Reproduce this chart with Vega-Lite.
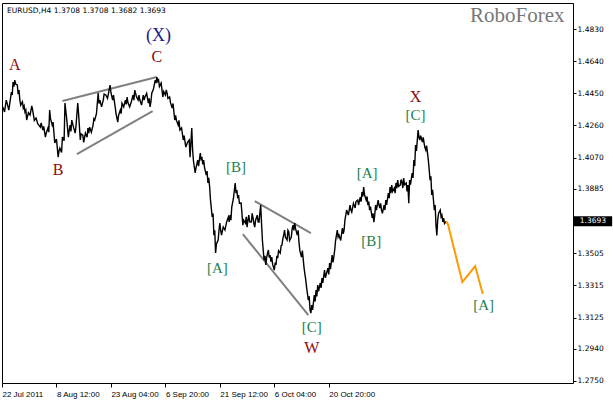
{
  "$schema": "https://vega.github.io/schema/vega-lite/v6.json",
  "width": 571,
  "height": 380,
  "autosize": "none",
  "padding": {"left": 2, "top": 3, "right": 40, "bottom": 18},
  "background": "white",
  "config": {"view": {"stroke": "black", "strokeWidth": 1}},
  "datasets": {
    "price": [
      {"i":1,"p":1.4369},{"i":3,"p":1.4340},{"i":5,"p":1.4410},{"i":6,"p":1.4392},{"i":8,"p":1.4351},{"i":9,"p":1.4385},{"i":11,"p":1.4457},{"i":12,"p":1.4440},{"i":13,"p":1.4516},{"i":14,"p":1.4490},{"i":15,"p":1.4528},{"i":16,"p":1.4505},{"i":18,"p":1.4499},{"i":19,"p":1.4445},{"i":20,"p":1.4469},{"i":21,"p":1.4410},{"i":22,"p":1.4380},{"i":24,"p":1.4400},{"i":25,"p":1.4363},{"i":26,"p":1.4375},{"i":27,"p":1.4339},{"i":28,"p":1.4350},{"i":29,"p":1.4292},{"i":31,"p":1.4335},{"i":33,"p":1.4321},{"i":35,"p":1.4375},{"i":36,"p":1.4351},{"i":38,"p":1.4290},{"i":40,"p":1.4304},{"i":42,"p":1.4270},{"i":45,"p":1.4250},{"i":46,"p":1.4275},{"i":48,"p":1.4233},{"i":49,"p":1.4255},{"i":51,"p":1.4191},{"i":52,"p":1.4215},{"i":54,"p":1.4245},{"i":55,"p":1.4220},{"i":56,"p":1.4351},{"i":57,"p":1.4300},{"i":59,"p":1.4262},{"i":60,"p":1.4280},{"i":62,"p":1.4156},{"i":64,"p":1.4180},{"i":66,"p":1.4073},{"i":67,"p":1.4110},{"i":68,"p":1.4126},{"i":70,"p":1.4100},{"i":71,"p":1.4191},{"i":73,"p":1.4170},{"i":74,"p":1.4392},{"i":76,"p":1.4300},{"i":78,"p":1.4191},{"i":79,"p":1.4230},{"i":80,"p":1.4262},{"i":81,"p":1.4225},{"i":82,"p":1.4292},{"i":84,"p":1.4250},{"i":86,"p":1.4215},{"i":87,"p":1.4260},{"i":89,"p":1.4392},{"i":90,"p":1.4330},{"i":92,"p":1.4174},{"i":93,"p":1.4210},{"i":95,"p":1.4203},{"i":96,"p":1.4160},{"i":98,"p":1.4215},{"i":100,"p":1.4190},{"i":101,"p":1.4245},{"i":102,"p":1.4215},{"i":103,"p":1.4250},{"i":105,"p":1.4220},{"i":107,"p":1.4262},{"i":108,"p":1.4300},{"i":109,"p":1.4292},{"i":111,"p":1.4330},{"i":113,"p":1.4451},{"i":114,"p":1.4390},{"i":115,"p":1.4410},{"i":117,"p":1.4370},{"i":119,"p":1.4410},{"i":120,"p":1.4445},{"i":122,"p":1.4440},{"i":124,"p":1.4420},{"i":127,"p":1.4499},{"i":128,"p":1.4455},{"i":130,"p":1.4410},{"i":131,"p":1.4440},{"i":133,"p":1.4369},{"i":134,"p":1.4330},{"i":136,"p":1.4280},{"i":137,"p":1.4320},{"i":139,"p":1.4351},{"i":140,"p":1.4330},{"i":141,"p":1.4392},{"i":143,"p":1.4370},{"i":145,"p":1.4410},{"i":146,"p":1.4385},{"i":147,"p":1.4428},{"i":148,"p":1.4395},{"i":150,"p":1.4369},{"i":152,"p":1.4400},{"i":154,"p":1.4440},{"i":155,"p":1.4410},{"i":156,"p":1.4469},{"i":158,"p":1.4430},{"i":160,"p":1.4410},{"i":161,"p":1.4440},{"i":162,"p":1.4410},{"i":164,"p":1.4380},{"i":166,"p":1.4440},{"i":167,"p":1.4410},{"i":168,"p":1.4428},{"i":170,"p":1.4450},{"i":172,"p":1.4392},{"i":173,"p":1.4420},{"i":174,"p":1.4369},{"i":175,"p":1.4400},{"i":176,"p":1.4451},{"i":178,"p":1.4475},{"i":180,"p":1.4528},{"i":181,"p":1.4510},{"i":182,"p":1.4546},{"i":183,"p":1.4520},{"i":184,"p":1.4528},{"i":185,"p":1.4490},{"i":187,"p":1.4511},{"i":188,"p":1.4470},{"i":189,"p":1.4428},{"i":190,"p":1.4460},{"i":192,"p":1.4440},{"i":193,"p":1.4470},{"i":194,"p":1.4451},{"i":195,"p":1.4420},{"i":197,"p":1.4428},{"i":198,"p":1.4395},{"i":200,"p":1.4363},{"i":201,"p":1.4390},{"i":203,"p":1.4292},{"i":204,"p":1.4320},{"i":205,"p":1.4290},{"i":207,"p":1.4262},{"i":208,"p":1.4290},{"i":209,"p":1.4233},{"i":211,"p":1.4245},{"i":213,"p":1.4174},{"i":214,"p":1.4200},{"i":216,"p":1.4132},{"i":218,"p":1.4160},{"i":220,"p":1.4174},{"i":221,"p":1.4073},{"i":223,"p":1.4245},{"i":224,"p":1.4115},{"i":225,"p":1.4050},{"i":227,"p":1.3979},{"i":228,"p":1.4010},{"i":230,"p":1.4055},{"i":231,"p":1.4020},{"i":233,"p":1.4097},{"i":234,"p":1.4060},{"i":235,"p":1.4067},{"i":236,"p":1.4030},{"i":237,"p":1.4055},{"i":238,"p":1.4010},{"i":240,"p":1.3967},{"i":241,"p":1.3990},{"i":242,"p":1.3920},{"i":243,"p":1.3950},{"i":244,"p":1.3896},{"i":245,"p":1.3820},{"i":247,"p":1.3719},{"i":248,"p":1.3740},{"i":249,"p":1.3612},{"i":250,"p":1.3640},{"i":251,"p":1.3506},{"i":252,"p":1.3560},{"i":254,"p":1.3583},{"i":255,"p":1.3640},{"i":256,"p":1.3683},{"i":257,"p":1.3640},{"i":258,"p":1.3612},{"i":260,"p":1.3660},{"i":262,"p":1.3642},{"i":264,"p":1.3690},{"i":266,"p":1.3719},{"i":267,"p":1.3690},{"i":268,"p":1.3730},{"i":269,"p":1.3700},{"i":270,"p":1.3778},{"i":272,"p":1.3830},{"i":274,"p":1.3920},{"i":275,"p":1.3860},{"i":276,"p":1.3878},{"i":277,"p":1.3830},{"i":278,"p":1.3849},{"i":279,"p":1.3800},{"i":281,"p":1.3801},{"i":282,"p":1.3740},{"i":283,"p":1.3671},{"i":284,"p":1.3700},{"i":286,"p":1.3683},{"i":287,"p":1.3720},{"i":288,"p":1.3659},{"i":289,"p":1.3700},{"i":290,"p":1.3730},{"i":291,"p":1.3690},{"i":293,"p":1.3689},{"i":294,"p":1.3740},{"i":295,"p":1.3713},{"i":296,"p":1.3680},{"i":297,"p":1.3659},{"i":298,"p":1.3700},{"i":300,"p":1.3730},{"i":301,"p":1.3690},{"i":302,"p":1.3689},{"i":303,"p":1.3740},{"i":304,"p":1.3789},{"i":305,"p":1.3680},{"i":306,"p":1.3583},{"i":307,"p":1.3520},{"i":308,"p":1.3464},{"i":309,"p":1.3490},{"i":310,"p":1.3435},{"i":311,"p":1.3480},{"i":313,"p":1.3524},{"i":314,"p":1.3480},{"i":315,"p":1.3494},{"i":316,"p":1.3455},{"i":317,"p":1.3482},{"i":318,"p":1.3440},{"i":320,"p":1.3405},{"i":321,"p":1.3450},{"i":322,"p":1.3435},{"i":323,"p":1.3490},{"i":324,"p":1.3476},{"i":325,"p":1.3520},{"i":327,"p":1.3506},{"i":328,"p":1.3550},{"i":329,"p":1.3553},{"i":330,"p":1.3590},{"i":331,"p":1.3612},{"i":332,"p":1.3642},{"i":333,"p":1.3600},{"i":335,"p":1.3583},{"i":336,"p":1.3640},{"i":337,"p":1.3630},{"i":338,"p":1.3580},{"i":340,"p":1.3600},{"i":341,"p":1.3650},{"i":342,"p":1.3671},{"i":343,"p":1.3640},{"i":344,"p":1.3683},{"i":345,"p":1.3650},{"i":347,"p":1.3612},{"i":348,"p":1.3640},{"i":349,"p":1.3571},{"i":350,"p":1.3520},{"i":352,"p":1.3482},{"i":353,"p":1.3520},{"i":355,"p":1.3417},{"i":356,"p":1.3380},{"i":357,"p":1.3346},{"i":358,"p":1.3300},{"i":360,"p":1.3228},{"i":361,"p":1.3250},{"i":362,"p":1.3169},{"i":363,"p":1.3151},{"i":364,"p":1.3198},{"i":365,"p":1.3170},{"i":367,"p":1.3258},{"i":368,"p":1.3220},{"i":369,"p":1.3287},{"i":370,"p":1.3250},{"i":371,"p":1.3317},{"i":372,"p":1.3280},{"i":374,"p":1.3329},{"i":375,"p":1.3300},{"i":376,"p":1.3358},{"i":377,"p":1.3330},{"i":379,"p":1.3405},{"i":380,"p":1.3360},{"i":383,"p":1.3417},{"i":384,"p":1.3380},{"i":385,"p":1.3447},{"i":386,"p":1.3410},{"i":388,"p":1.3494},{"i":389,"p":1.3450},{"i":391,"p":1.3524},{"i":392,"p":1.3580},{"i":394,"p":1.3642},{"i":395,"p":1.3600},{"i":396,"p":1.3612},{"i":398,"p":1.3580},{"i":400,"p":1.3654},{"i":401,"p":1.3620},{"i":402,"p":1.3642},{"i":403,"p":1.3700},{"i":405,"p":1.3760},{"i":407,"p":1.3730},{"i":409,"p":1.3789},{"i":410,"p":1.3760},{"i":411,"p":1.3748},{"i":413,"p":1.3800},{"i":415,"p":1.3772},{"i":416,"p":1.3810},{"i":418,"p":1.3819},{"i":419,"p":1.3790},{"i":421,"p":1.3837},{"i":422,"p":1.3810},{"i":423,"p":1.3866},{"i":424,"p":1.3840},{"i":425,"p":1.3896},{"i":426,"p":1.3850},{"i":428,"p":1.3819},{"i":429,"p":1.3840},{"i":430,"p":1.3789},{"i":431,"p":1.3810},{"i":432,"p":1.3760},{"i":433,"p":1.3780},{"i":435,"p":1.3713},{"i":436,"p":1.3740},{"i":437,"p":1.3689},{"i":438,"p":1.3730},{"i":439,"p":1.3789},{"i":440,"p":1.3760},{"i":442,"p":1.3819},{"i":443,"p":1.3790},{"i":444,"p":1.3772},{"i":445,"p":1.3800},{"i":446,"p":1.3760},{"i":447,"p":1.3740},{"i":449,"p":1.3789},{"i":450,"p":1.3760},{"i":451,"p":1.3819},{"i":452,"p":1.3790},{"i":454,"p":1.3860},{"i":455,"p":1.3830},{"i":456,"p":1.3896},{"i":457,"p":1.3860},{"i":458,"p":1.3908},{"i":459,"p":1.3870},{"i":461,"p":1.3890},{"i":462,"p":1.3860},{"i":463,"p":1.3920},{"i":464,"p":1.3890},{"i":465,"p":1.3937},{"i":466,"p":1.3900},{"i":468,"p":1.3908},{"i":469,"p":1.3940},{"i":470,"p":1.3926},{"i":471,"p":1.3890},{"i":472,"p":1.3949},{"i":473,"p":1.3910},{"i":475,"p":1.3920},{"i":476,"p":1.3870},{"i":477,"p":1.3908},{"i":478,"p":1.3800},{"i":479,"p":1.3937},{"i":480,"p":1.3910},{"i":482,"p":1.3979},{"i":483,"p":1.3950},{"i":484,"p":1.4055},{"i":485,"p":1.4020},{"i":486,"p":1.4144},{"i":487,"p":1.4110},{"i":489,"p":1.4233},{"i":490,"p":1.4190},{"i":491,"p":1.4174},{"i":492,"p":1.4200},{"i":494,"p":1.4162},{"i":495,"p":1.4190},{"i":496,"p":1.4156},{"i":497,"p":1.4130},{"i":498,"p":1.4115},{"i":499,"p":1.4140},{"i":501,"p":1.4055},{"i":502,"p":1.4000},{"i":503,"p":1.3937},{"i":504,"p":1.3960},{"i":505,"p":1.3849},{"i":506,"p":1.3880},{"i":508,"p":1.3760},{"i":509,"p":1.3790},{"i":510,"p":1.3671},{"i":511,"p":1.3610},{"i":512,"p":1.3701},{"i":513,"p":1.3740},{"i":515,"p":1.3760},{"i":516,"p":1.3720},{"i":517,"p":1.3730},{"i":518,"p":1.3690},{"i":519,"p":1.3713},{"i":520,"p":1.3680},{"i":522,"p":1.3693}
    ],
    "proj": [
      {"i":522,"p":1.3693},{"i":524,"p":1.3677},{"i":541,"p":1.3334},{"i":556,"p":1.3429},{"i":565,"p":1.3264}
    ],
    "trend": [
      {"i":71,"p":1.4404,"i2":182,"p2":1.4546},
      {"i":88,"p":1.4091,"i2":177,"p2":1.4345},
      {"i":297,"p":1.3813,"i2":363,"p2":1.3624},
      {"i":283,"p":1.3618,"i2":360,"p2":1.3139}
    ],
    "labels": [
      {"t":"A","k":"major","i":15,"p":1.4617},
      {"t":"B","k":"major","i":66,"p":1.3996},
      {"t":"C","k":"major","i":182,"p":1.4664},
      {"t":"(X)","k":"top","i":184,"p":1.4788},
      {"t":"[A]","k":"minor","i":253,"p":1.3417},
      {"t":"[B]","k":"minor","i":275,"p":1.4014},
      {"t":"[C]","k":"minor","i":364,"p":1.3068},
      {"t":"W","k":"major","i":364,"p":1.2944},
      {"t":"[A]","k":"minor","i":429,"p":1.3979},
      {"t":"[B]","k":"minor","i":434,"p":1.3577},
      {"t":"X","k":"major","i":486,"p":1.4428},
      {"t":"[C]","k":"minor","i":486,"p":1.4321},
      {"t":"[A]","k":"minor","i":566,"p":1.3198}
    ],
    "info": [
      {"t":"EURUSD,H4  1.3708 1.3708 1.3682 1.3693","k":"title","i":6,"p":1.4936},
      {"t":"RoboForex","k":"brand","i":661,"p":1.4906}
    ],
    "last": [
      {"t":"1.3693","i":672,"i2":717,"p":1.3693,"hi":1.3723,"lo":1.3664}
    ]
  },
  "encoding": {
    "x": {"field":"i","type":"quantitative","scale":{"domain":[0,671],"nice":false,"zero":false},
      "axis":{"orient":"bottom","values":[0,64,128,192,256,320,384],
        "labelExpr":"['22 Jul 2011','8 Aug 12:00','23 Aug 04:00','6 Sep 20:00','21 Sep 12:00','6 Oct 04:00','20 Oct 20:00'][round(datum.value/64)]",
        "labelAlign":"left","labelFont":"Liberation Sans","labelFontSize":8,"labelColor":"black","labelPadding":3,"labelFlush":false,"labelOverlap":false,
        "tickSize":4,"tickColor":"black","domain":false,"grid":false,"title":null}},
    "y": {"field":"p","type":"quantitative","scale":{"domain":[1.27379,1.49837],"nice":false,"zero":false},
      "axis":{"orient":"right","values":[1.4830,1.4640,1.4450,1.4260,1.4070,1.3885,1.3693,1.3505,1.3315,1.3125,1.2940,1.2750],
        "labelExpr":"datum.value == 1.3693 ? '' : format(datum.value, '.4f')",
        "labelFont":"DejaVu Sans","labelFontSize":7.5,"labelColor":"black","labelPadding":1,"labelFlush":false,"labelOverlap":false,
        "tickSize":3,"tickColor":"black","domain":false,"grid":false,"title":null}}
  },
  "layer": [
    {"data":{"name":"trend"},"mark":{"type":"rule","color":"#808080","strokeWidth":2},
      "encoding":{"x2":{"field":"i2"},"y2":{"field":"p2"}}},
    {"data":{"name":"price"},"mark":{"type":"line","color":"black","strokeWidth":1.4}},
    {"data":{"name":"proj"},"mark":{"type":"line","color":"#FF9900","strokeWidth":2}},
    {"data":{"name":"labels"},"transform":[{"filter":"datum.k==='major'"}],
      "mark":{"type":"text","font":"Liberation Serif","fontSize":16,"color":"#8b0a0a","baseline":"middle","align":"center"},
      "encoding":{"text":{"field":"t"}}},
    {"data":{"name":"labels"},"transform":[{"filter":"datum.k==='top'"}],
      "mark":{"type":"text","font":"Liberation Serif","fontSize":18,"color":"#1c1c8a","baseline":"middle","align":"center"},
      "encoding":{"text":{"field":"t"}}},
    {"data":{"name":"labels"},"transform":[{"filter":"datum.k==='minor'"}],
      "mark":{"type":"text","font":"Liberation Serif","fontSize":15,"color":"#1d7f4f","baseline":"middle","align":"center"},
      "encoding":{"text":{"field":"t"}}},
    {"data":{"name":"info"},"transform":[{"filter":"datum.k==='title'"}],
      "mark":{"type":"text","font":"DejaVu Sans","fontSize":7.5,"color":"black","baseline":"middle","align":"left"},
      "encoding":{"text":{"field":"t"}}},
    {"data":{"name":"info"},"transform":[{"filter":"datum.k==='brand'"}],
      "mark":{"type":"text","font":"Liberation Serif","fontSize":21,"color":"#777777","baseline":"middle","align":"right"},
      "encoding":{"text":{"field":"t"}}},
    {"data":{"name":"last"},"mark":{"type":"rect","color":"black","clip":false},
      "encoding":{"x2":{"field":"i2"},"y":{"field":"hi","type":"quantitative"},"y2":{"field":"lo"}}},
    {"data":{"name":"last"},"mark":{"type":"text","font":"DejaVu Sans","fontSize":7.5,"color":"white","baseline":"middle","align":"left","dx":6,"clip":false},
      "encoding":{"text":{"field":"t"}}}
  ]
}
